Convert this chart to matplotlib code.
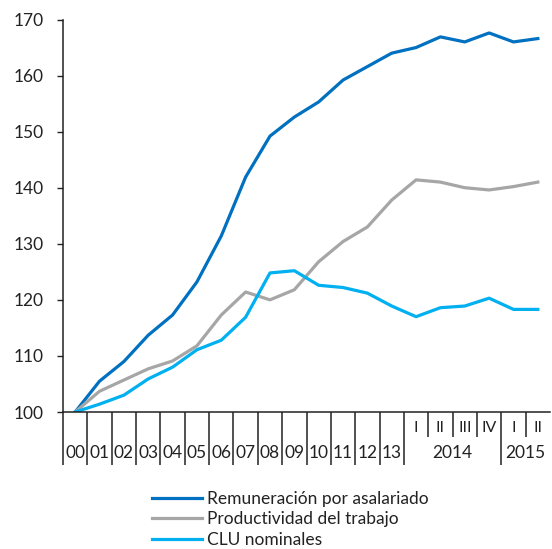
import numpy as np
import matplotlib
matplotlib.use("Agg")
from matplotlib import pyplot as plt
from matplotlib.transforms import blended_transform_factory

plt.rcParams['font.family'] = ['Lato', 'DejaVu Sans']

# categories: years 2000-2013, then quarters of 2014 and 2015
years = ["00", "01", "02", "03", "04", "05", "06", "07", "08", "09",
         "10", "11", "12", "13"]
quarters = ["I", "II", "III", "IV", "I", "II"]
quarter_years = ["2014", "2015"]

remuneracion = [100, 105.5, 109.0, 113.7, 117.3, 123.2, 131.4, 141.9, 149.2, 152.6,
                155.3, 159.2, 161.6, 164.0, 165.0, 166.9, 166.0, 167.6, 166.0, 166.6]
productividad = [100, 103.7, 105.7, 107.7, 109.1, 111.8, 117.3, 121.4, 120.0, 121.8,
                 126.8, 130.4, 133.0, 137.8, 141.4, 141.0, 140.0, 139.6, 140.2, 141.0]
clu = [100, 101.4, 103.0, 105.9, 108.0, 111.1, 112.8, 116.9, 124.8, 125.2,
       122.6, 122.2, 121.2, 118.9, 117.0, 118.6, 118.9, 120.3, 118.3, 118.3]

labels = ["Remuneración por asalariado", "Productividad del trabajo", "CLU nominales"]
colors = ["#0070c0", "#a6a6a6", "#00b0f0"]

TXT = "#222222"
FS = 12.5

fig = plt.figure(figsize=(5.52, 5.49), dpi=100)
ax = fig.add_axes([63/552, 137/549, 487/552, 392.5/549])

x = np.arange(len(remuneracion))
for series, lab, col in zip([remuneracion, productividad, clu], labels, colors):
    ax.plot(x, series, color=col, lw=2.3, label=lab, solid_joinstyle='round')

ax.set_xlim(-0.5, len(x) - 0.5)
ax.set_ylim(100, 170)
ax.set_yticks(np.arange(100, 171, 10))
ax.tick_params(axis='y', direction='out', length=4, width=1, colors=TXT,
               labelsize=FS, pad=10)
for s in ['top', 'right']:
    ax.spines[s].set_visible(False)
for s in ['left', 'bottom']:
    ax.spines[s].set_color(TXT)
    ax.spines[s].set_linewidth(1.1)

# category separators: long for years, short between quarters
n_year = len(years)
long_b = [i - 0.5 for i in range(0, n_year + 1)] + [n_year + 4 - 0.5]
short_b = [n_year + 1 - 0.5, n_year + 2 - 0.5, n_year + 3 - 0.5, n_year + 5 - 0.5]
ax.set_xticks(long_b)
ax.set_xticks(short_b, minor=True)
ax.tick_params(axis='x', which='major', direction='out', length=38, width=1.1,
               colors=TXT, labelbottom=False)
ax.tick_params(axis='x', which='minor', direction='out', length=18, width=1.1,
               colors=TXT, labelbottom=False)

trans = blended_transform_factory(ax.transData, ax.transAxes)
y_year = -41 / 392.5
y_quarter = -16 / 392.5
for i, lab in enumerate(years):
    ax.text(i, y_year, lab, transform=trans, ha='center', va='center',
            fontsize=FS, color=TXT)
for j, lab in enumerate(quarters):
    ax.text(n_year + j, y_quarter, lab, transform=trans, ha='center', va='center',
            fontsize=FS - 1, color=TXT)
ax.text(n_year + 1.5, y_year, quarter_years[0], transform=trans, ha='center',
        va='center', fontsize=FS, color=TXT)
ax.text(n_year + 4.5, y_year, quarter_years[1], transform=trans, ha='center',
        va='center', fontsize=FS, color=TXT)

fig.legend(loc='upper left', bbox_to_anchor=(145/552, 1 - 484/549), frameon=False,
           fontsize=FS, handlelength=2.9, handletextpad=0.25, labelspacing=0.25,
           borderaxespad=0, labelcolor=TXT)

fig.savefig("out.png", dpi=100)
